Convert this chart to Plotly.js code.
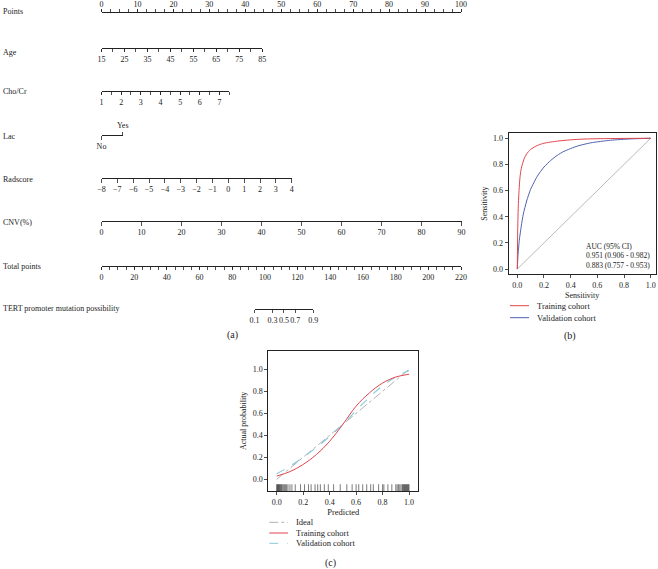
<!DOCTYPE html>
<html><head><meta charset="utf-8">
<script src="https://cdn.plot.ly/plotly-3.0.1.min.js"></script>
<style>html,body{margin:0;padding:0;background:#fff}</style>
</head><body><div id="chart" style="width:658px;height:569px"></div>
<script>
const W = 658, H = 569;
const FONT = 'Liberation Serif, Times New Roman, serif';

// ---------- (a) Nomogram data ----------
const rowNames = ['Points', 'Age', 'Cho/Cr', 'Lac', 'Radscore', 'CNV(%)', 'Total points', 'TERT promoter mutation possibility'];
const pointsTicks = [0, 10, 20, 30, 40, 50, 60, 70, 80, 90, 100];
const ageTicks = [15, 25, 35, 45, 55, 65, 75, 85];
const choTicks = [1, 2, 3, 4, 5, 6, 7];
const lacLevels = [0, 1];
const lacLabels = ['No', 'Yes'];
const radTicks = [-8, -7, -6, -5, -4, -3, -2, -1, 0, 1, 2, 3, 4];
const cnvTicks = [0, 10, 20, 30, 40, 50, 60, 70, 80, 90];
const totalTicks = [0, 20, 40, 60, 80, 100, 120, 140, 160, 180, 200, 220];
const tertTicks = [0.1, 0.3, 0.5, 0.7, 0.9];

const pointsRange = [0, 100];
const ageRange = [15, 85];
const choRange = [1, 7.5];
const radRange = [-8, 4];
const cnvRange = [0, 90];
const totalRange = [0, 220];

// ---------- (b) ROC data ----------
const fprTrain = [0, 0.003, 0.008, 0.013, 0.02, 0.03, 0.05, 0.07, 0.1, 0.15, 0.2, 0.3, 0.4, 0.5, 0.7, 1];
const tprTrain = [0, 0.3, 0.5, 0.6, 0.7, 0.77, 0.84, 0.88, 0.915, 0.945, 0.962, 0.978, 0.988, 0.994, 0.998, 1];
const fprVal = [0, 0.005, 0.015, 0.03, 0.045, 0.07, 0.1, 0.15, 0.2, 0.25, 0.3, 0.35, 0.45, 0.55, 0.7, 0.85, 1];
const tprVal = [0, 0.1, 0.22, 0.33, 0.42, 0.52, 0.61, 0.71, 0.78, 0.83, 0.87, 0.9, 0.94, 0.965, 0.985, 0.995, 1];
const aucLines = ['AUC (95% CI)', '0.951 (0.906 - 0.982)', '0.883 (0.757 - 0.953)'];
const rocLegend = ['Training cohort', 'Validation cohort'];

// ---------- (c) Calibration data ----------
const idealX = [0, 1], idealY = [0, 1];
const calPred = [0, 0.1, 0.2, 0.3, 0.4, 0.5, 0.6, 0.7, 0.8, 0.9, 1.0];
const calTrain = [0.03, 0.07, 0.135, 0.225, 0.345, 0.5, 0.665, 0.785, 0.875, 0.93, 0.955];
const calVal = [0.05, 0.12, 0.2, 0.29, 0.39, 0.5, 0.625, 0.745, 0.85, 0.93, 0.99];
const rugPred = [0.0, 0.004, 0.008, 0.012, 0.016, 0.02, 0.025, 0.03, 0.036, 0.042, 0.05, 0.058, 0.066, 0.075, 0.085,
                 0.1, 0.115, 0.14, 0.18, 0.21, 0.24, 0.26, 0.29, 0.31, 0.33, 0.36, 0.39, 0.43, 0.48, 0.53, 0.57,
                 0.6, 0.62, 0.65, 0.68, 0.71, 0.73, 0.77, 0.8, 0.81, 0.84, 0.87,
                 0.9, 0.91, 0.92, 0.93, 0.94, 0.95, 0.955, 0.96, 0.965, 0.97, 0.975, 0.98, 0.985, 0.99, 0.995, 1.0];
const calLegend = ['Ideal', 'Training cohort', 'Validation cohort'];

const RED = '#e0464e', BLUE = '#4d62ad', CYAN = '#86c9d9', GREY = '#a8a8a8';

// ---------- helpers ----------
const fx = px => px / W;
const fy = py => 1 - py / H;
const logit = p => Math.log(p / (1 - p));
const tickFont = {family: FONT, size: 8, color: '#222'};

function nomAxis(x0, x1, py, range, tickvals, ticktext, side, minor) {
  const ax = {
    domain: [fx(x0), fx(x1)], range: range, anchor: 'free', position: fy(py),
    side: side, showline: true, linecolor: '#222', linewidth: 1,
    ticks: 'outside', ticklen: 3.5, tickwidth: 0.8, tickcolor: '#222',
    tickmode: 'array', tickvals: tickvals, ticktext: ticktext, tickangle: 0,
    tickfont: tickFont, showgrid: false, zeroline: false, fixedrange: true
  };
  if (minor) ax.minor = {ticks: 'outside', ticklen: 3, tickwidth: 0.8, tickcolor: '#222',
                         tickmode: 'linear', tick0: minor[0], dtick: minor[1], showgrid: false};
  return ax;
}

function frameAxis(domain, range, anchor, title, size, standoff) {
  return {domain: domain, range: range, anchor: anchor,
          showline: true, mirror: true, linecolor: '#222', linewidth: 1,
          ticks: 'outside', ticklen: 3, tickcolor: '#222', tickwidth: 0.8,
          tickmode: 'array', tickvals: [0, 0.2, 0.4, 0.6, 0.8, 1.0], tickformat: '.1f', tickangle: 0,
          tickfont: tickFont, showgrid: false, zeroline: false, fixedrange: true,
          title: {text: title, font: {family: FONT, size: size, color: '#222'}, standoff: standoff}};
}

const pointsAxis = nomAxis(101.5, 461, 11.5, pointsRange, pointsTicks, pointsTicks.map(String), 'top', [0, 2.5]);
pointsAxis.ticklen = 3;
pointsAxis.ticklabelstandoff = -2;

const layout = {
  width: W, height: H, margin: {l: 0, r: 0, t: 0, b: 0},
  paper_bgcolor: '#fff', plot_bgcolor: 'rgba(0,0,0,0)', showlegend: false,
  font: {family: FONT, size: 8, color: '#222'},
  yaxis: {domain: [0, 1], range: [0, 1], visible: false, fixedrange: true},
  xaxis:  pointsAxis,
  xaxis2: nomAxis(101.5, 262.3, 47.7, ageRange, ageTicks, ageTicks.map(String), 'bottom', [15, 5]),
  xaxis3: nomAxis(101.5, 229.3, 90.7, choRange, choTicks, choTicks.map(String), 'bottom', [1, 0.5]),
  xaxis4: nomAxis(101.5, 122.7, 135, [0, 1], [lacLevels[0]], [lacLabels[0]], 'bottom', null),
  xaxis5: Object.assign(nomAxis(101.5, 122.7, 135, [0, 1], [lacLevels[1]], [lacLabels[1]], 'top', null), {showline: false}),
  xaxis6: nomAxis(101.5, 291.7, 178, radRange, radTicks, radTicks.map(v => v < 0 ? '\u2212' + Math.abs(v) : String(v)), 'bottom', null),
  xaxis7: nomAxis(101.5, 461.5, 221.3, cnvRange, cnvTicks, cnvTicks.map(String), 'bottom', null),
  xaxis8: nomAxis(101.5, 461, 265.7, totalRange, totalTicks, totalTicks.map(String), 'bottom', [0, 5]),
  xaxis9: nomAxis(254.5, 313.3, 308.7, [logit(tertTicks[0]), logit(tertTicks[tertTicks.length - 1])],
                  tertTicks.map(logit), tertTicks.map(String), 'bottom', null),
  // ROC
  xaxis10: frameAxis([fx(508.7), fx(655.7)], [-0.0645, 1.0375], 'y2', 'Sensitivity', 8, 3),
  yaxis2: frameAxis([fy(274), fy(133.3)], [-0.038, 1.038], 'x10', 'Sensitivity', 8, 4),
  // Calibration
  xaxis11: frameAxis([fx(268.3), fx(418.3)], [-0.0635, 1.07], 'y3', 'Predicted', 8.5, 3),
  yaxis3: frameAxis([fy(491), fy(350.7)], [-0.106, 1.169], 'x11', 'Actual probability', 8, 4),
  annotations: [],
  shapes: []
};

// row names
const rowY = [12, 52, 91, 136, 179, 222, 266, 308];
rowNames.forEach((t, i) => layout.annotations.push({
  text: t, xref: 'paper', yref: 'paper', x: fx(0.5), y: fy(rowY[i]), xanchor: 'left', yanchor: 'middle',
  showarrow: false, font: {family: FONT, size: 8, color: '#222'}
}));

// AUC text
const aucY = [0.176, 0.1, 0.025];
aucLines.forEach((t, i) => layout.annotations.push({
  text: t, xref: 'x10', yref: 'y2', x: 0.5, y: aucY[i], xanchor: 'left', yanchor: 'middle',
  showarrow: false, font: {family: FONT, size: 7.5, color: '#222'}
}));

// legends (b) and (c)
function legendEntry(x0, x1, py, color, dash, width, label) {
  layout.shapes.push({type: 'line', xref: 'paper', yref: 'paper', x0: fx(x0), x1: fx(x1), y0: fy(py), y1: fy(py),
                      line: {color: color, width: width, dash: dash}});
  layout.annotations.push({text: label, xref: 'paper', yref: 'paper', x: fx(x1 + 6), y: fy(py),
                           xanchor: 'left', yanchor: 'middle', showarrow: false,
                           font: {family: FONT, size: 8.5, color: '#222'}});
}
legendEntry(510, 529, 305.7, RED, 'solid', 1, rocLegend[0]);
legendEntry(510, 529, 317.7, BLUE, 'solid', 1, rocLegend[1]);
legendEntry(269.3, 288, 522.3, GREY, 'dashdot', 0.9, calLegend[0]);
legendEntry(269.3, 288, 533, RED, 'solid', 1, calLegend[1]);
legendEntry(269.3, 288, 543.3, CYAN, 'dash', 1, calLegend[2]);

// panel labels
[['(a)', 232, 335], ['(b)', 570, 336], ['(c)', 330, 563]].forEach(p => layout.annotations.push({
  text: p[0], xref: 'paper', yref: 'paper', x: fx(p[1]), y: fy(p[2]), xanchor: 'center', yanchor: 'middle',
  showarrow: false, font: {family: FONT, size: 10, color: '#222'}
}));

// ---------- traces ----------
const traces = [];
// anchors for nomogram axes (invisible)
const nomAxes = [['x', pointsTicks], ['x2', ageTicks], ['x3', choTicks], ['x4', lacLevels], ['x5', lacLevels],
                 ['x6', radTicks], ['x7', cnvTicks], ['x8', totalTicks], ['x9', tertTicks.map(logit)]];
nomAxes.forEach(a => traces.push({
  x: a[1], y: a[1].map(() => 0.5), xaxis: a[0], yaxis: 'y', type: 'scatter', mode: 'markers',
  marker: {opacity: 0, size: 1}, hoverinfo: 'skip', showlegend: false
}));

// ROC
traces.push({x: [0, 1], y: [0, 1], xaxis: 'x10', yaxis: 'y2', mode: 'lines', line: {color: GREY, width: 0.8}, hoverinfo: 'skip'});
traces.push({x: fprVal, y: tprVal, xaxis: 'x10', yaxis: 'y2', mode: 'lines', line: {color: BLUE, width: 1, shape: 'spline', smoothing: 0.6}, name: rocLegend[1]});
traces.push({x: fprTrain, y: tprTrain, xaxis: 'x10', yaxis: 'y2', mode: 'lines', line: {color: RED, width: 1, shape: 'spline', smoothing: 0.6}, name: rocLegend[0]});

// Calibration
traces.push({x: idealX, y: idealY, xaxis: 'x11', yaxis: 'y3', mode: 'lines', line: {color: GREY, width: 0.9, dash: 'dashdot'}, name: calLegend[0]});
traces.push({x: calPred, y: calVal, xaxis: 'x11', yaxis: 'y3', mode: 'lines', line: {color: CYAN, width: 1.1, dash: 'dash', shape: 'spline'}, name: calLegend[2]});
traces.push({x: calPred, y: calTrain, xaxis: 'x11', yaxis: 'y3', mode: 'lines', line: {color: RED, width: 1, shape: 'spline'}, name: calLegend[1]});
traces.push({x: rugPred, y: rugPred.map(() => -0.083), xaxis: 'x11', yaxis: 'y3', mode: 'markers',
             marker: {symbol: 'line-ns', size: 6, line: {width: 0.6, color: '#222'}}, hoverinfo: 'skip'});

Plotly.newPlot('chart', traces, layout, {staticPlot: true, displayModeBar: false});
</script>
</body></html>
